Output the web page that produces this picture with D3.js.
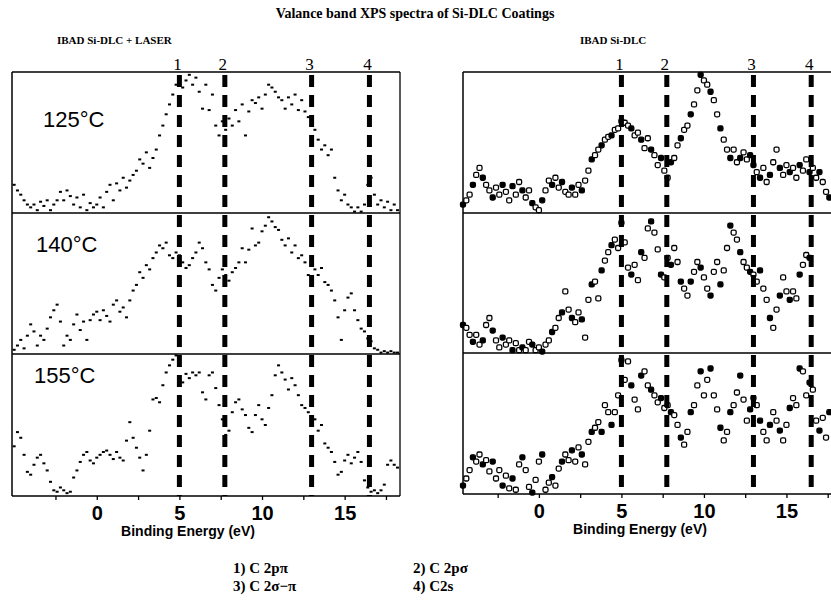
<!DOCTYPE html>
<html>
<head>
<meta charset="utf-8">
<script src="https://cdn.jsdelivr.net/npm/d3@7"></script>
<style>
  body { margin: 0; background: #fff; }
  svg { display: block; }
</style>
</head>
<body>
<script>
// energy grids (eV), 0.2 eV step
const energyLeft = d3.range(117).map(i => +(-5 + i * 0.2).toFixed(1));
const energyRight = d3.range(112).map(i => +(-4.6 + i * 0.2).toFixed(1));

// IBAD Si-DLC + LASER (normalised counts per panel, 0-100)
const laser125 = [20,16,13,9,6,4,6,2,8,5,9,2,6,9,15,9,16,12,6,11,4,13,2,7,4,
  6,11,4,15,20,9,21,16,25,18,23,27,30,38,35,43,32,39,45,55,62,70,77,84,91,
  93,89,94,98,91,96,86,74,91,73,84,62,55,65,59,67,62,73,65,77,55,72,80,78,82,
  74,84,91,89,86,82,80,74,82,77,84,73,80,72,68,66,59,52,45,48,41,45,25,16,9,
  13,6,4,1,4,1,6,20,25,13,6,9,4,8,2,6,2];
const laser140 = [3,6,10,4,13,21,16,6,13,10,18,26,31,35,23,6,13,10,21,28,17,23,10,24,28,
  30,24,31,27,23,35,38,30,33,26,38,45,49,58,54,63,60,68,72,77,75,79,70,68,72,
  70,65,61,63,68,72,79,75,65,60,49,45,54,60,56,52,58,61,65,75,65,74,89,77,79,
  87,91,97,94,90,88,81,77,82,72,77,68,70,65,56,52,60,56,61,51,49,45,38,26,10,
  31,40,43,31,24,18,16,11,9,4,3,1,2,1,2,1,1];
const laser155 = [35,45,41,29,17,15,22,27,29,23,18,10,4,3,6,4,2,3,13,18,24,29,31,25,23,
  27,29,31,32,29,26,31,27,25,39,52,41,34,27,18,29,46,68,69,66,78,87,92,96,99,
  83,80,86,83,87,85,87,73,68,85,87,76,64,54,43,46,59,66,68,61,57,48,45,57,64,
  54,50,62,71,85,92,87,82,75,83,78,71,64,62,59,64,54,46,50,37,34,31,24,15,17,
  25,29,23,27,31,24,11,6,3,4,2,4,8,22,25,22,20];

// IBAD Si-DLC
const ibad125 = [6,9,13,20,27,32,25,20,16,11,18,13,20,15,9,19,13,22,16,11,16,7,4,
  2,9,16,23,20,25,18,22,15,13,18,13,20,16,23,30,38,41,45,48,52,54,55,59,60,
  65,64,62,60,55,57,52,46,53,45,41,34,39,30,25,36,39,48,53,59,62,70,77,87,98,
  94,91,86,80,70,60,52,45,39,45,36,39,43,38,41,34,29,25,32,22,27,36,45,32,27,
  34,29,32,25,34,30,38,29,32,25,29,22,15,11];
const ibad140 = [20,18,13,8,13,6,9,20,25,16,9,4,11,6,9,2,7,2,4,2,8,6,2,
  4,1,6,9,15,18,25,29,44,31,25,22,29,24,11,38,49,51,39,59,66,72,77,81,75,
  93,79,61,56,63,52,72,68,89,94,86,74,56,54,68,63,75,65,51,46,41,51,58,65,61,
  54,46,41,58,65,49,59,75,91,86,81,72,65,61,58,56,51,59,46,38,25,18,31,41,54,
  44,38,44,39,56,63,70,68];
const ibad155 = [6,11,17,26,23,28,21,24,16,23,11,17,6,13,4,11,3,21,26,17,5,1,10,
  23,28,3,8,12,6,18,23,28,24,31,23,33,28,21,37,44,47,51,44,63,58,49,58,70,
  95,81,94,77,67,60,84,87,77,74,70,65,68,61,63,58,56,49,40,35,44,58,63,77,87,
  70,81,89,70,60,47,38,44,58,63,72,84,67,52,60,68,63,52,44,38,49,58,52,45,38,
  49,61,68,63,89,87,70,79,74,52,45,54,40,58];

const temps = ["125°C", "140°C", "155°C"];
const peakEV = [5.0, 7.75, 13.0, 16.5];
const peakNames = ["1", "2", "3", "4"];
const tickEV = [-2.5, 0, 2.5, 5, 7.5, 10, 12.5, 15, 17.5];
const legendText = [["1) C 2p\u03c0", "2)  C 2p\u03c3"], ["3) C 2\u03c3\u2212\u03c0", "4) C2s"]];

const W = 831, H = 605;
const svg = d3.select("body").append("svg").attr("width", W).attr("height", H);

const serif = "'Liberation Serif', 'DejaVu Serif', serif";
const sans = "'Liberation Sans', Arial, sans-serif";

svg.append("text").attr("x", 415).attr("y", 18).attr("text-anchor", "middle")
  .style("font-family", serif).style("font-weight", "bold").style("font-size", "14px")
  .text("Valance band XPS spectra of Si-DLC Coatings");

const panels = [
  { title: "IBAD Si-DLC + LASER", titleX: 57, x0: 12, x1: 400, dom: [-5.13, 18.35],
    rows: [72, 213, 354, 496], energy: energyLeft, series: [laser125, laser140, laser155],
    temps: true, right: true, marker: "dot", axisLabelX: 188 },
  { title: "IBAD Si-DLC", titleX: 580, x0: 463, x1: 831, dom: [-4.6, 17.7],
    rows: [72, 213, 353, 494], energy: energyRight, series: [ibad125, ibad140, ibad155],
    temps: false, right: false, marker: "box", axisLabelX: 640 }
];

panels.forEach(p => {
  const g = svg.append("g");
  const x = d3.scaleLinear().domain(p.dom).range([p.x0, p.x1]);

  g.append("text").attr("x", p.titleX).attr("y", 44)
    .style("font-family", serif).style("font-weight", "bold").style("font-size", "11px")
    .text(p.title);

  // spectra
  p.series.forEach((vals, k) => {
    const y = d3.scaleLinear().domain([0, 100]).range([p.rows[k + 1], p.rows[k]]);
    const pts = vals.map((v, i) => ({ e: p.energy[i], v: v }));
    if (p.marker === "dot") {
      g.selectAll(null).data(pts).enter().append("rect")
        .attr("x", d => x(d.e) - 1.5).attr("y", d => y(d.v) - 1)
        .attr("width", 3).attr("height", 2).attr("fill", "#000");
    } else {
      g.selectAll(null).data(pts).enter().append("rect")
        .attr("x", d => x(d.e) - 2.5).attr("y", d => y(d.v) - 2.5)
        .attr("width", 5).attr("height", 5).attr("rx", 1.5)
        .attr("fill", (d, i) => i % 3 === 0 ? "#000" : "#fff")
        .attr("stroke", "#000").attr("stroke-width", 1.3);
    }
    if (p.temps) {
      g.append("text").attr("x", [43, 36, 34][k]).attr("y", [127, 252, 383][k])
        .style("font-family", sans).style("font-size", "22px").text(temps[k]);
    }
  });

  // frame
  const top = p.rows[0], bot = p.rows[3];
  p.rows.forEach(r => {
    g.append("line").attr("x1", p.x0).attr("x2", p.x1).attr("y1", r).attr("y2", r)
      .attr("stroke", "#000").attr("stroke-width", 1.3);
  });
  g.append("line").attr("x1", p.x0).attr("x2", p.x0).attr("y1", top).attr("y2", bot)
    .attr("stroke", "#000").attr("stroke-width", 1.5);
  if (p.right) {
    g.append("line").attr("x1", p.x1).attr("x2", p.x1).attr("y1", top).attr("y2", bot)
      .attr("stroke", "#000").attr("stroke-width", 1.3);
  }

  // peak markers
  peakEV.forEach((e, i) => {
    g.append("line").attr("x1", x(e)).attr("x2", x(e)).attr("y1", top + 3).attr("y2", bot)
      .attr("stroke", "#000").attr("stroke-width", 5).attr("stroke-dasharray", "12,8");
    g.append("text").attr("x", x(e) - 2).attr("y", top - 2).attr("text-anchor", "middle")
      .style("font-family", serif).style("font-size", "17px").text(peakNames[i]);
  });

  // x axis
  const axis = d3.axisBottom(x).tickValues(tickEV).tickSize(4).tickPadding(6)
    .tickFormat(d => d % 5 === 0 ? d : "");
  const ax = g.append("g").attr("transform", "translate(0," + bot + ")").call(axis);
  ax.select(".domain").remove();
  ax.selectAll("line").attr("stroke-width", 1.3);
  ax.selectAll("text").style("font-family", sans).style("font-weight", "bold")
    .style("font-size", "20px");

  g.append("text").attr("x", p.axisLabelX).attr("y", bot + 40).attr("text-anchor", "middle")
    .style("font-family", sans).style("font-weight", "bold").style("font-size", "14px")
    .text("Binding Energy (eV)");
});

// legend
legendText.forEach((row, r) => {
  row.forEach((t, c) => {
    svg.append("text").attr("x", [233, 413][c]).attr("y", [573, 591][r])
      .style("font-family", serif).style("font-weight", "bold").style("font-size", "15px")
      .text(t);
  });
});
</script>
</body>
</html>
